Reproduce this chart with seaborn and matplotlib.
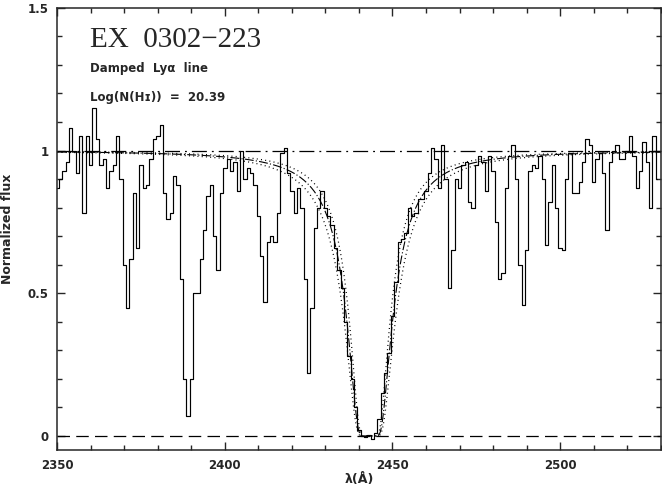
import numpy as np
import pandas as pd
import matplotlib
matplotlib.use("Agg")
import matplotlib.pyplot as plt
import seaborn as sns
from matplotlib.ticker import MultipleLocator

# ---- data ----
wave_start = 2350.0
wave_step = 1.0
flux = [
    0.87, 0.90, 0.93, 0.96, 1.08, 1.00, 0.92, 1.05, 0.78, 1.05,   # 2350-2359
    0.95, 1.15, 1.04, 0.95, 0.97, 0.87, 0.93, 0.95, 1.05, 0.90,   # 2360-2369
    0.60, 0.45, 0.62, 0.85, 0.66, 0.95, 0.87, 0.88, 0.97, 1.04,   # 2370-2379
    1.05, 1.09, 0.85, 0.76, 0.78, 0.91, 0.88, 0.55, 0.20, 0.07,   # 2380-2389
    0.20, 0.50, 0.50, 0.62, 0.72, 0.84, 0.88, 0.70, 0.58, 0.85,   # 2390-2399
    0.94, 0.97, 0.93, 0.96, 0.86, 1.00, 0.90, 0.94, 0.92, 0.88,   # 2400-2409
    0.77, 0.63, 0.47, 0.68, 0.70, 0.68, 0.78, 0.99, 1.01, 0.92,   # 2410-2419
    0.86, 0.78, 0.87, 0.80, 0.55, 0.22, 0.45, 0.73, 0.80, 0.86,   # 2420-2429
    0.80, 0.77, 0.74, 0.66, 0.58, 0.52, 0.40, 0.28, 0.20, 0.10,   # 2430-2439
    0.02, 0.00, -0.005, 0.005, -0.01, 0.01, 0.06, 0.15, 0.22, 0.29,  # 2440-2449
    0.42, 0.54, 0.68, 0.69, 0.71, 0.80, 0.77, 0.78, 0.83, 0.83,   # 2450-2459
    0.86, 0.92, 1.01, 0.97, 0.87, 1.02, 0.90, 0.52, 0.65, 0.90,   # 2460-2469
    0.87, 0.95, 0.96, 0.82, 0.80, 0.95, 0.98, 0.96, 0.86, 0.98,   # 2470-2479
    0.93, 0.75, 0.55, 0.57, 0.87, 0.98, 1.02, 0.90, 0.60, 0.46,   # 2480-2489
    0.65, 0.93, 0.95, 0.94, 0.98, 0.90, 0.67, 0.82, 0.95, 0.80,   # 2490-2499
    0.66, 0.65, 0.90, 0.99, 0.85, 0.85, 0.89, 0.96, 1.04, 1.02,   # 2500-2509
    0.89, 0.97, 0.99, 0.92, 0.72, 0.96, 1.00, 1.02, 0.97, 0.97,   # 2510-2519
    1.00, 1.05, 0.98, 0.87, 0.93, 1.03, 0.96, 0.80, 1.05, 0.90,   # 2520-2529
]
line_center = 2443.2          # observed Ly-alpha centre (Angstrom)
log_nhi = 20.39
log_nhi_err = 0.10
continuum_level = 1.0
zero_level = 0.0

title_text = "EX  0302\u2212223"
subtitle_text = "Damped  Ly\u03b1  line"
column_text = "Log(N(H\u026a))  =  20.39"

wave = wave_start + wave_step * np.arange(len(flux))
spec = pd.DataFrame({"wave": wave, "flux": flux})

# damped Ly-alpha model (Lorentzian damping wings)
model_wave = np.linspace(2350, 2530, 2000)
zp1 = line_center / 1215.67


def dla(logn):
    tau = 4.26e-20 * 10 ** logn * zp1 ** 2 / np.maximum((model_wave - line_center) ** 2, 1e-6)
    return np.exp(-tau)


models = pd.DataFrame({
    "wave": model_wave,
    "best": dla(log_nhi),
    "low": dla(log_nhi - log_nhi_err),
    "high": dla(log_nhi + log_nhi_err),
})

# ---- plotting ----
sns.set_style("ticks")
plt.rcParams["font.family"] = ["DejaVu Sans"]

fig = plt.figure(figsize=(6.62, 4.91), dpi=100)
ax = fig.add_axes([0.0865, 0.083, 0.9115, 0.901])

sns.lineplot(data=spec, x="wave", y="flux", drawstyle="steps-mid", color="black",
             lw=0.85, estimator=None, ax=ax)
sns.lineplot(data=models, x="wave", y="best", color="black", lw=0.8,
             linestyle=(0, (8, 2, 1, 2)), estimator=None, ax=ax)
sns.lineplot(data=models, x="wave", y="low", color="black", lw=0.9,
             linestyle=(0, (0.8, 2.6)), estimator=None, ax=ax)
sns.lineplot(data=models, x="wave", y="high", color="black", lw=0.9,
             linestyle=(0, (0.8, 2.6)), estimator=None, ax=ax)

ax.axhline(continuum_level, color="black", lw=0.9, linestyle=(0, (12, 4, 1.5, 4)))
ax.axhline(zero_level, color="black", lw=0.9, linestyle=(0, (10, 5)))

ax.set_xlim(2350, 2530)
ax.set_ylim(-0.05, 1.5)
ax.xaxis.set_major_locator(MultipleLocator(50))
ax.xaxis.set_minor_locator(MultipleLocator(10))
ax.yaxis.set_major_locator(MultipleLocator(0.5))
ax.yaxis.set_minor_locator(MultipleLocator(0.1))
ax.set_yticks([0, 0.5, 1, 1.5])
ax.set_yticklabels(["0", "0.5", "1", "1.5"])
ax.tick_params(which="both", direction="in", top=True, right=True, width=1.0,
               labelsize=8.5, pad=6)
ax.tick_params(which="major", length=6)
ax.tick_params(which="minor", length=3.5)
for lab in ax.get_xticklabels() + ax.get_yticklabels():
    lab.set_fontweight("bold")
for s in ax.spines.values():
    s.set_linewidth(1.1)

ax.set_xlabel("\u03bb(\u00c5)", fontsize=9, fontweight="bold", labelpad=1)
ax.set_ylabel("Normalized flux", fontsize=9, fontweight="bold", labelpad=10)

ax.text(0.055, 0.957, title_text, transform=ax.transAxes, fontsize=21,
        family=["Liberation Serif"], va="top", ha="left")
ax.text(0.055, 0.878, subtitle_text, transform=ax.transAxes, fontsize=8.5,
        fontweight="bold", va="top", ha="left")
ax.text(0.055, 0.812, column_text, transform=ax.transAxes, fontsize=8.5,
        fontweight="bold", va="top", ha="left")

fig.savefig("out.png", dpi=100)
